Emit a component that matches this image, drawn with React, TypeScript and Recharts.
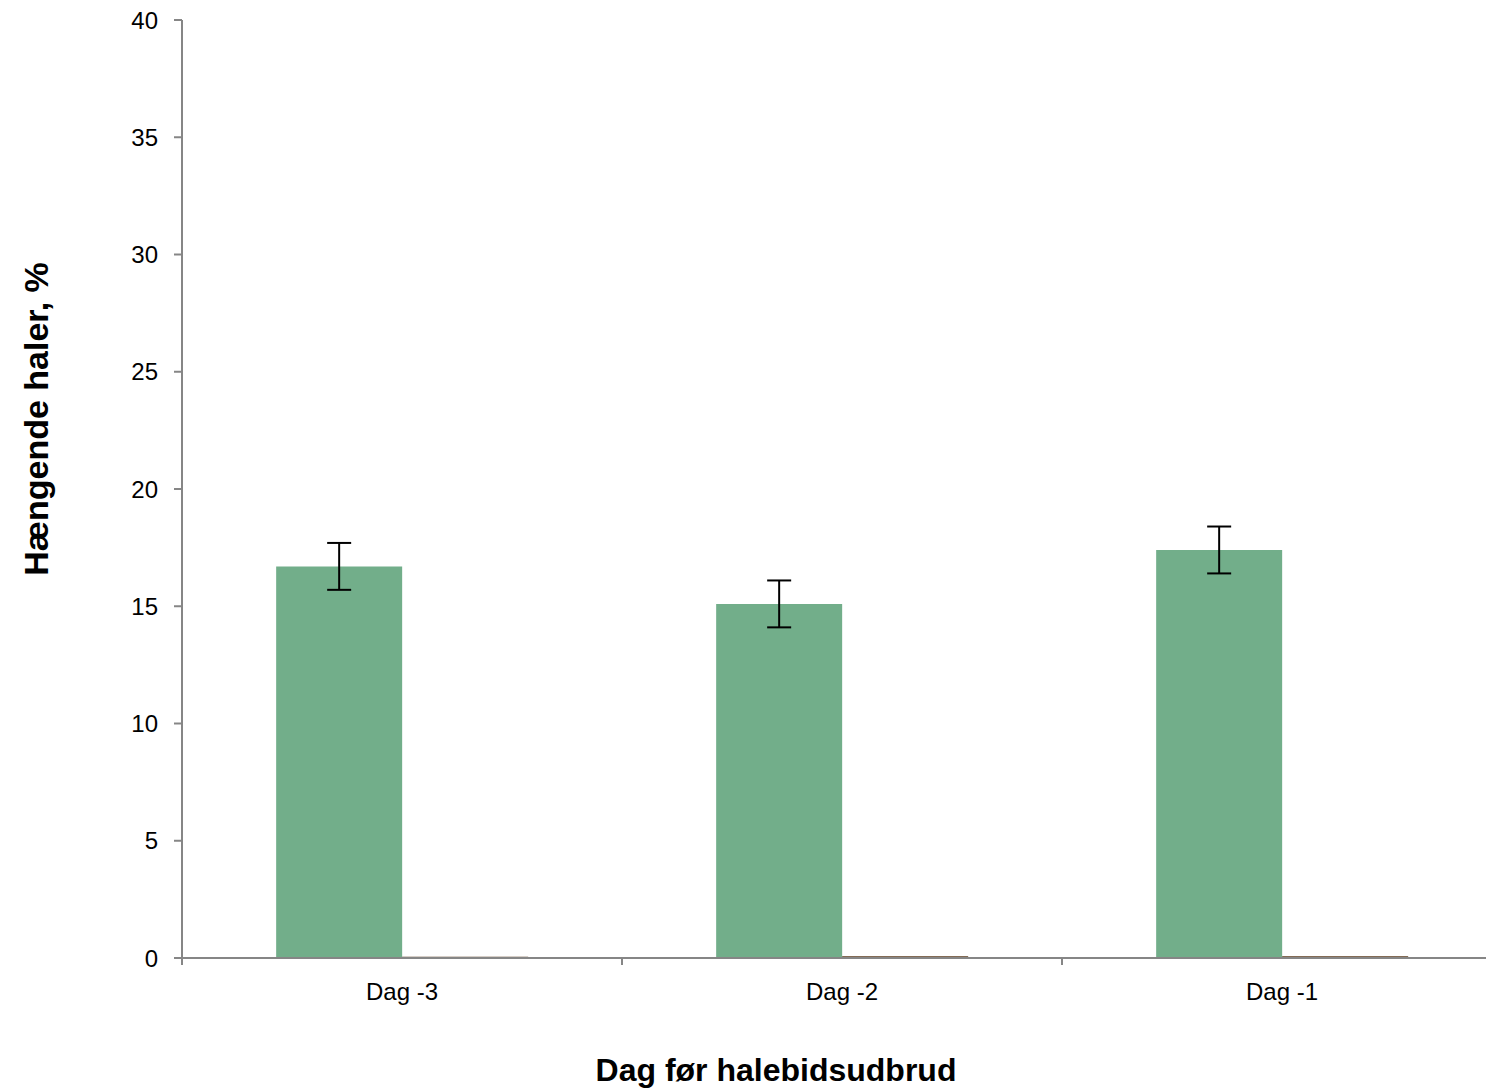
import React from 'react';
import { BarChart, Bar, XAxis, YAxis, ErrorBar, Label } from 'recharts';

const categories = ['Dag -3', 'Dag -2', 'Dag -1'];
const greenValues = [16.7, 15.1, 17.4];
const greenErrors = [1.0, 1.0, 1.0];
const brownValues = [0.05, 0.07, 0.07];
const yTicks = [0, 5, 10, 15, 20, 25, 30, 35, 40];

const data = categories.map((c, i) => ({
  name: c,
  green: greenValues[i],
  greenErr: greenErrors[i],
  brown: brownValues[i],
}));

const FONT = '"Liberation Sans", Arial, sans-serif';
const AXIS_COLOR = '#868686';
const X_TICK_SIZE = 7;
const X_TICK_MARGIN = 18;

const XTick = (props: any) => {
  const { x, y, payload, index, visibleTicksCount } = props;
  const half = payload && typeof payload.offset === 'number' ? payload.offset : 0;
  const axisY = y - X_TICK_SIZE - X_TICK_MARGIN;
  return (
    <g>
      <line x1={x - half} x2={x - half} y1={axisY} y2={axisY + X_TICK_SIZE} stroke={AXIS_COLOR} strokeWidth={2} />
      {index === (visibleTicksCount ?? 3) - 1 && (
        <line x1={x + half} x2={x + half} y1={axisY} y2={axisY + X_TICK_SIZE} stroke={AXIS_COLOR} strokeWidth={2} />
      )}
      <text x={x} y={y} dy="0.71em" textAnchor="middle" fontSize={24} fontFamily={FONT} fill="#000">
        {payload.value}
      </text>
    </g>
  );
};

const YTitle = (props: any) => {
  const vb = props.viewBox;
  const cx = vb.x + 36;
  const cy = vb.y + vb.height / 2 - 70;
  return (
    <text
      x={cx}
      y={cy}
      transform={`rotate(-90, ${cx}, ${cy})`}
      textAnchor="middle"
      dominantBaseline="central"
      fontSize={34}
      fontWeight="bold"
      fontFamily={FONT}
      fill="#000"
    >
      Hængende haler, %
    </text>
  );
};

const XTitle = (props: any) => {
  const vb = props.viewBox;
  return (
    <text
      x={vb.x + 594}
      y={vb.y + 123}
      textAnchor="middle"
      fontSize={32}
      fontWeight="bold"
      fontFamily={FONT}
      fill="#000"
    >
      Dag før halebidsudbrud
    </text>
  );
};

export default function App() {
  return (
    <div
      style={{
        position: 'absolute',
        left: 0,
        top: 0,
        width: 1486,
        height: 1089,
        overflow: 'hidden',
        background: '#fff',
      }}
    >
      <BarChart
        width={1520}
        height={1089}
        data={data}
        margin={{ top: 20, right: 18, left: 0, bottom: 0 }}
        barCategoryGap="21.4%"
        barGap={0}
      >
        <XAxis
          dataKey="name"
          height={131}
          axisLine={{ stroke: AXIS_COLOR, strokeWidth: 2 }}
          tickLine={false}
          tickSize={X_TICK_SIZE}
          tickMargin={X_TICK_MARGIN}
          tick={<XTick />}
          interval={0}
        >
          <Label content={<XTitle />} />
        </XAxis>
        <YAxis
          width={182}
          domain={[0, 40]}
          ticks={yTicks}
          interval={0}
          axisLine={{ stroke: AXIS_COLOR, strokeWidth: 2 }}
          tickLine={{ stroke: AXIS_COLOR, strokeWidth: 2 }}
          tickSize={8}
          tickMargin={16}
          tick={{ fontSize: 24, fontFamily: FONT, fill: '#000' }}
        >
          <Label content={<YTitle />} />
        </YAxis>
        <Bar dataKey="green" fill="#72AE8A" isAnimationActive={false}>
          <ErrorBar dataKey="greenErr" width={12} stroke="#000" strokeWidth={2} isAnimationActive={false} />
        </Bar>
        <Bar dataKey="brown" fill="#5A3A1C" isAnimationActive={false} />
      </BarChart>
    </div>
  );
}
